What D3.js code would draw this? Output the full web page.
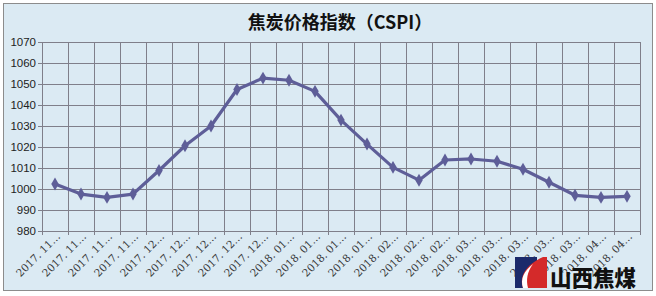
<!DOCTYPE html>
<html>
<head>
<meta charset="utf-8">
<script src="https://cdn.jsdelivr.net/npm/d3@7"></script>
<style>
body { margin: 0; background: #fff; }
svg { display: block; }
</style>
</head>
<body>
<svg id="chart" width="656" height="296"></svg>
<script>
// chart data
var categories = ["2017.11.03", "2017.11.10", "2017.11.17", "2017.11.24",
    "2017.12.01", "2017.12.08", "2017.12.15", "2017.12.22", "2017.12.29",
    "2018.01.05", "2018.01.12", "2018.01.19", "2018.01.26",
    "2018.02.02", "2018.02.09", "2018.02.23",
    "2018.03.02", "2018.03.09", "2018.03.16", "2018.03.23", "2018.03.30",
    "2018.04.04", "2018.04.13"];
var values = [1002.4, 997.6, 996.0, 997.6, 1008.8, 1020.6, 1030.0, 1047.4, 1052.8,
    1051.8, 1046.5, 1032.8, 1021.4, 1010.3, 1004.2, 1013.8, 1014.3, 1013.2,
    1009.4, 1003.2, 997.0, 996.0, 996.5];
var yTicks = [980, 990, 1000, 1010, 1020, 1030, 1040, 1050, 1060, 1070];
var title = "焦炭价格指数（CSPI）";

var svg = d3.select("#chart");
var margin = {left: 42, right: 16, top: 42, bottom: 65};
var W = 656, H = 296;

// background + border
svg.append("rect")
    .attr("x", 3.5).attr("y", 3.5)
    .attr("width", 649).attr("height", 287)
    .attr("fill", "#dbeaf3")
    .attr("stroke", "#8c8c8c")
    .attr("stroke-width", 1);

var x = d3.scaleBand()
    .domain(categories)
    .range([margin.left, W - margin.right]);
var y = d3.scaleLinear()
    .domain([980, 1070])
    .range([H - margin.bottom, margin.top]);

// horizontal grid
svg.append("g")
    .selectAll("line")
    .data(yTicks)
    .enter().append("line")
    .attr("x1", margin.left - 4).attr("x2", W - margin.right)
    .attr("y1", function(d) { return Math.round(y(d)) + 0.5; })
    .attr("y2", function(d) { return Math.round(y(d)) + 0.5; })
    .attr("stroke", "#7f7f8a");

// vertical grid
var vlines = categories.map(function(c) { return x(c); }).concat([x.range()[1]]);
svg.append("g")
    .selectAll("line")
    .data(vlines)
    .enter().append("line")
    .attr("x1", function(d) { return Math.round(d) + 0.5; })
    .attr("x2", function(d) { return Math.round(d) + 0.5; })
    .attr("y1", margin.top)
    .attr("y2", H - margin.bottom + 4)
    .attr("stroke", "#7f7f8a");

// y labels
svg.append("g")
    .selectAll("text")
    .data(yTicks)
    .enter().append("text")
    .attr("x", margin.left - 6)
    .attr("y", function(d) { return y(d) + 4; })
    .attr("text-anchor", "end")
    .attr("font-family", "Liberation Sans, Arial, sans-serif")
    .attr("font-size", 11.5)
    .attr("fill", "#222")
    .text(function(d) { return d; });

// x labels (truncated like the original)
svg.append("g")
    .selectAll("text")
    .data(categories)
    .enter().append("text")
    .attr("transform", function(d) {
        return "translate(" + (x(d) + x.bandwidth() / 2 + 6) + "," + (H - margin.bottom + 6) + ") rotate(-45)";
    })
    .attr("text-anchor", "end")
    .attr("font-family", "DejaVu Serif, Liberation Serif, serif")
    .attr("font-size", 10.5)
    .attr("fill", "#333")
    .text(function(d) { return d.substring(0, 4) + ". " + d.substring(5, 7) + "…"; });

// line
var line = d3.line()
    .x(function(d, i) { return x(categories[i]) + x.bandwidth() / 2; })
    .y(function(d) { return y(d); });

svg.append("path")
    .datum(values)
    .attr("d", line)
    .attr("fill", "none")
    .attr("stroke", "#5e5e98")
    .attr("stroke-width", 3.2)
    .attr("stroke-linejoin", "round");

svg.append("g")
    .selectAll("path")
    .data(values)
    .enter().append("path")
    .attr("d", d3.symbol().type(d3.symbolDiamond).size(48))
    .attr("transform", function(d, i) {
        return "translate(" + (x(categories[i]) + x.bandwidth() / 2) + "," + y(d) + ")";
    })
    .attr("fill", "#5e5e98");

// title
svg.append("text")
    .attr("x", 340).attr("y", 29)
    .attr("text-anchor", "middle")
    .attr("font-family", "Noto Sans CJK SC, sans-serif")
    .attr("font-weight", "bold")
    .attr("font-size", 18)
    .attr("fill", "#111")
    .text(title);

// logo
var logo = svg.append("g").attr("transform", "translate(515,257)");
logo.append("rect").attr("width", 22).attr("height", 31).attr("fill", "#1b2a6b");
logo.append("path")
    .attr("d", "M8,31 C4,20 10,8 28,0 L32,0 L32,31 Z")
    .attr("fill", "#d42a2a");
logo.append("path")
    .attr("d", "M8,31 C5,22 9,14 18,7 C12,15 11,23 13,31 Z")
    .attr("fill", "#ffffff");
logo.append("text")
    .attr("x", 35).attr("y", 29)
    .attr("font-family", "Noto Sans CJK SC, sans-serif")
    .attr("font-weight", "900")
    .attr("font-size", 21.5)
    .attr("fill", "#111")
    .text("山西焦煤");
</script>
</body>
</html>
